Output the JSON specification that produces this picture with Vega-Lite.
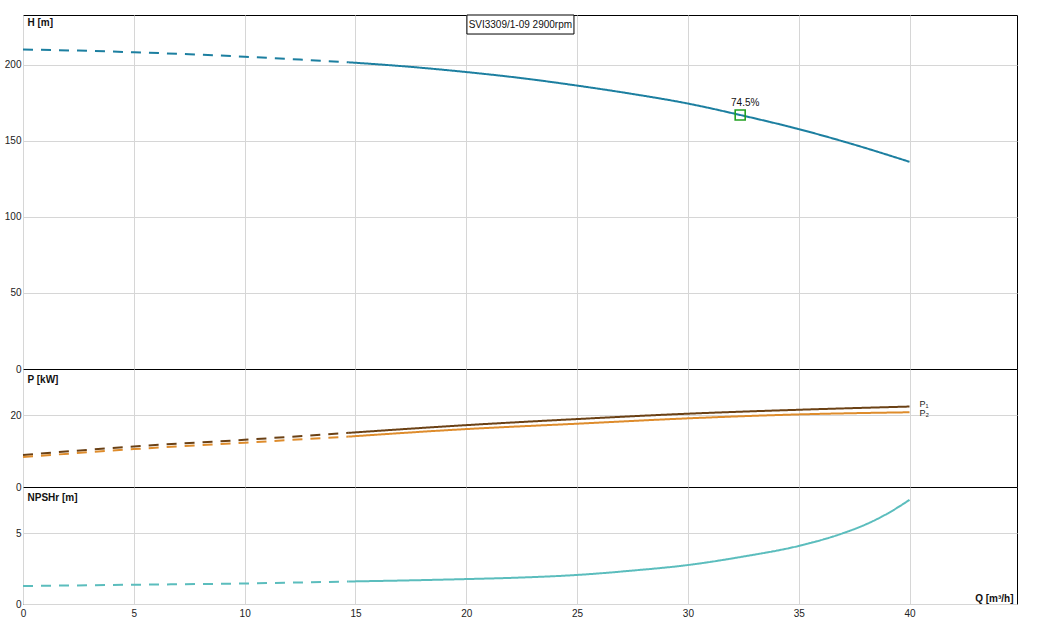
{
  "$schema": "https://vega.github.io/schema/vega-lite/v6.json",
  "padding": {"left": 3, "top": 14, "right": 21, "bottom": 0},
  "background": "white",
  "spacing": 0,
  "bounds": "flush",
  "config": {
    "font": "Liberation Sans",
    "view": {"stroke": "#000000", "strokeWidth": 1},
    "axis": {
      "labelFont": "Liberation Sans",
      "labelFontSize": 10,
      "labelColor": "#222222",
      "titleFont": "Liberation Sans",
      "titleFontSize": 10,
      "titleFontWeight": "bold",
      "titleColor": "#111111",
      "gridColor": "#d6d6d6",
      "gridWidth": 1,
      "domain": false,
      "ticks": false,
      "labelFlush": false
    },
    "axisY": {
      "labelPadding": 2,
      "minExtent": 19,
      "maxExtent": 19,
      "titleAngle": 0,
      "titleAlign": "left",
      "titleBaseline": "middle",
      "titleX": 4
    }
  },
  "datasets": {
    "head": [
      {"q": 0, "v": 210.0, "part": "dash"},
      {"q": 2.5, "v": 209.3, "part": "dash"},
      {"q": 5, "v": 208.2, "part": "dash"},
      {"q": 7.5, "v": 206.9, "part": "dash"},
      {"q": 10, "v": 205.3, "part": "dash"},
      {"q": 12.5, "v": 203.4, "part": "dash"},
      {"q": 14.7, "v": 201.6, "part": "dash"},
      {"q": 14.7, "v": 201.6, "part": "solid"},
      {"q": 17.5, "v": 198.6, "part": "solid"},
      {"q": 20, "v": 195.2, "part": "solid"},
      {"q": 22.5, "v": 191.2, "part": "solid"},
      {"q": 25, "v": 186.3, "part": "solid"},
      {"q": 27.5, "v": 180.8, "part": "solid"},
      {"q": 30, "v": 174.5, "part": "solid"},
      {"q": 32.5, "v": 166.5, "part": "solid"},
      {"q": 35, "v": 157.7, "part": "solid"},
      {"q": 37.5, "v": 147.5, "part": "solid"},
      {"q": 40, "v": 136.2, "part": "solid"}
    ],
    "titlebox": [
      {"q": 20.03, "q2": 24.86, "v": 220.2, "v2": 232.7, "qc": 22.44, "vc": 226.3, "label": "SVI3309/1-09 2900rpm"}
    ],
    "bep": [
      {"q": 32.36, "v": 167.0, "label": "74.5%"}
    ],
    "power": [
      {"q": 0, "v": 8.93, "series": "P1", "part": "dash"},
      {"q": 5, "v": 11.35, "series": "P1", "part": "dash"},
      {"q": 10, "v": 13.2, "series": "P1", "part": "dash"},
      {"q": 14.7, "v": 15.15, "series": "P1", "part": "dash"},
      {"q": 14.7, "v": 15.15, "series": "P1", "part": "solid"},
      {"q": 20, "v": 17.3, "series": "P1", "part": "solid"},
      {"q": 25, "v": 19.0, "series": "P1", "part": "solid"},
      {"q": 30, "v": 20.5, "series": "P1", "part": "solid"},
      {"q": 35, "v": 21.6, "series": "P1", "part": "solid"},
      {"q": 40, "v": 22.5, "series": "P1", "part": "solid"},
      {"q": 0, "v": 8.37, "series": "P2", "part": "dash"},
      {"q": 5, "v": 10.6, "series": "P2", "part": "dash"},
      {"q": 10, "v": 12.4, "series": "P2", "part": "dash"},
      {"q": 14.7, "v": 14.1, "series": "P2", "part": "dash"},
      {"q": 14.7, "v": 14.1, "series": "P2", "part": "solid"},
      {"q": 20, "v": 16.2, "series": "P2", "part": "solid"},
      {"q": 25, "v": 17.7, "series": "P2", "part": "solid"},
      {"q": 30, "v": 19.2, "series": "P2", "part": "solid"},
      {"q": 35, "v": 20.3, "series": "P2", "part": "solid"},
      {"q": 40, "v": 20.9, "series": "P2", "part": "solid"}
    ],
    "plabels": [
      {"q": 40, "v": 23.2, "label": "P₁"},
      {"q": 40, "v": 20.6, "label": "P₂"}
    ],
    "npsh": [
      {"q": 0, "v": 1.27, "part": "dash"},
      {"q": 5, "v": 1.36, "part": "dash"},
      {"q": 10, "v": 1.45, "part": "dash"},
      {"q": 14.7, "v": 1.59, "part": "dash"},
      {"q": 14.7, "v": 1.59, "part": "solid"},
      {"q": 17.5, "v": 1.67, "part": "solid"},
      {"q": 20, "v": 1.76, "part": "solid"},
      {"q": 22.5, "v": 1.87, "part": "solid"},
      {"q": 25, "v": 2.05, "part": "solid"},
      {"q": 27.5, "v": 2.36, "part": "solid"},
      {"q": 30, "v": 2.75, "part": "solid"},
      {"q": 32.5, "v": 3.35, "part": "solid"},
      {"q": 35, "v": 4.1, "part": "solid"},
      {"q": 37, "v": 5.0, "part": "solid"},
      {"q": 38, "v": 5.6, "part": "solid"},
      {"q": 39, "v": 6.38, "part": "solid"},
      {"q": 40, "v": 7.35, "part": "solid"}
    ],
    "sep": [{"v": 0}]
  },
  "vconcat": [
    {
      "width": 994,
      "height": 354,
      "encoding": {
        "x": {"field": "q", "type": "quantitative", "scale": {"domain": [0, 44.85], "nice": false, "zero": false},
              "axis": {"values": [0, 5, 10, 15, 20, 25, 30, 35, 40], "labels": false, "title": null, "grid": true}},
        "y": {"field": "v", "type": "quantitative", "scale": {"domain": [0, 232.7], "nice": false},
              "axis": {"values": [0, 50, 100, 150, 200], "title": "H [m]", "titleY": 7}}
      },
      "layer": [
        {
          "data": {"name": "head"},
          "mark": {"type": "line", "color": "#1c7fa0", "strokeWidth": 2, "interpolate": "monotone"},
          "encoding": {
            "strokeDash": {"field": "part", "type": "nominal", "scale": {"domain": ["dash", "solid"], "range": [[10, 8], [1, 0]]}, "legend": null}
          }
        },
        {
          "data": {"name": "titlebox"},
          "mark": {"type": "rect", "fill": "white", "stroke": "#000000", "strokeWidth": 1},
          "encoding": {"x2": {"field": "q2"}, "y2": {"field": "v2"}}
        },
        {
          "data": {"name": "titlebox"},
          "mark": {"type": "text", "fontSize": 10, "color": "#111111", "baseline": "middle", "align": "center"},
          "encoding": {
            "x": {"field": "qc", "type": "quantitative"},
            "y": {"field": "vc", "type": "quantitative"},
            "text": {"field": "label"}
          }
        },
        {
          "data": {"name": "bep"},
          "mark": {"type": "point", "shape": "square", "size": 100, "filled": false, "stroke": "#22a022", "strokeWidth": 1.6, "opacity": 1}
        },
        {
          "data": {"name": "bep"},
          "mark": {"type": "text", "fontSize": 10, "color": "#111111", "dx": 5, "dy": -12, "baseline": "middle"},
          "encoding": {"text": {"field": "label"}}
        }
      ]
    },
    {
      "width": 994,
      "height": 118,
      "encoding": {
        "x": {"field": "q", "type": "quantitative", "scale": {"domain": [0, 44.85], "nice": false, "zero": false},
              "axis": {"values": [0, 5, 10, 15, 20, 25, 30, 35, 40], "labels": false, "title": null, "grid": true}},
        "y": {"field": "v", "type": "quantitative", "scale": {"domain": [0, 33], "nice": false},
              "axis": {"values": [0, 20], "title": "P [kW]", "titleY": 10}}
      },
      "layer": [
        {
          "data": {"name": "power"},
          "mark": {"type": "line", "strokeWidth": 2, "interpolate": "monotone"},
          "encoding": {
            "color": {"field": "series", "type": "nominal", "scale": {"domain": ["P1", "P2"], "range": ["#6b4115", "#de8c2c"]}, "legend": null},
            "strokeDash": {"field": "part", "type": "nominal", "scale": {"domain": ["dash", "solid"], "range": [[10, 8], [1, 0]]}, "legend": null}
          }
        },
        {
          "data": {"name": "plabels"},
          "mark": {"type": "text", "fontSize": 9, "color": "#222222", "dx": 10, "align": "left", "baseline": "middle"},
          "encoding": {"text": {"field": "label"}}
        },
        {
          "data": {"name": "sep"},
          "mark": {"type": "rule", "color": "#000000", "strokeWidth": 2.5},
          "encoding": {"y": {"datum": 33}}
        }
      ]
    },
    {
      "width": 994,
      "height": 117,
      "encoding": {
        "x": {"field": "q", "type": "quantitative", "scale": {"domain": [0, 44.85], "nice": false, "zero": false},
              "axis": {"values": [0, 5, 10, 15, 20, 25, 30, 35, 40], "labelPadding": 4, "grid": true,
                       "title": "Q [m³/h]", "titleAlign": "right", "titleBaseline": "middle", "titleX": 990, "titleY": -6}},
        "y": {"field": "v", "type": "quantitative", "scale": {"domain": [0, 8.26], "nice": false},
              "axis": {"values": [0, 5], "title": "NPSHr [m]", "titleY": 10}}
      },
      "layer": [
        {
          "data": {"name": "npsh"},
          "mark": {"type": "line", "color": "#5bbdbd", "strokeWidth": 2, "interpolate": "monotone"},
          "encoding": {
            "strokeDash": {"field": "part", "type": "nominal", "scale": {"domain": ["dash", "solid"], "range": [[10, 8], [1, 0]]}, "legend": null}
          }
        },
        {
          "data": {"name": "sep"},
          "mark": {"type": "rule", "color": "#000000", "strokeWidth": 2.5},
          "encoding": {"y": {"datum": 8.26}}
        }
      ]
    }
  ]
}
